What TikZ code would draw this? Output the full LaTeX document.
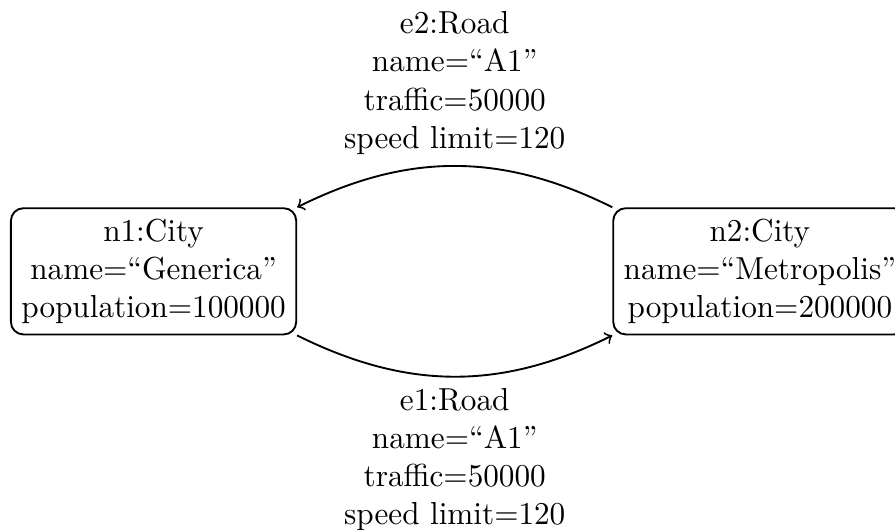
\documentclass[tikz,border=0pt]{standalone}
\usetikzlibrary{positioning,calc}
\begin{document}
\begin{tikzpicture}[
  yscale=1.02, transform shape,
  city/.style={draw, semithick, rounded corners, align=center},
  road/.style={->, semithick},
  attrs/.style={align=center}
]
% the two city objects
\node[city] (n1) {n1:City\\name=``Generica''\\population=100000};
\node[city, right=101pt of n1] (n2) {n2:City\\name=``Metropolis''\\population=200000};

% the two road links between them
\draw[road] (n1.south east) to[bend right=26]
  node[attrs, below] (e1) {e1:Road\\name=``A1''\\traffic=50000\\speed limit=120}
  (n2.south west);
\draw[road] (n2.north west) to[bend right=26]
  node[attrs, above] (e2) {e2:Road\\name=``A1''\\traffic=50000\\speed limit=120}
  (n1.north east);

% frame of the page
\pgfresetboundingbox
\path[use as bounding box] ($(n1.west |- e2.north)+(-3.2pt,0)$) rectangle ++(286.8pt,-166.5pt);
\end{tikzpicture}
\end{document}
